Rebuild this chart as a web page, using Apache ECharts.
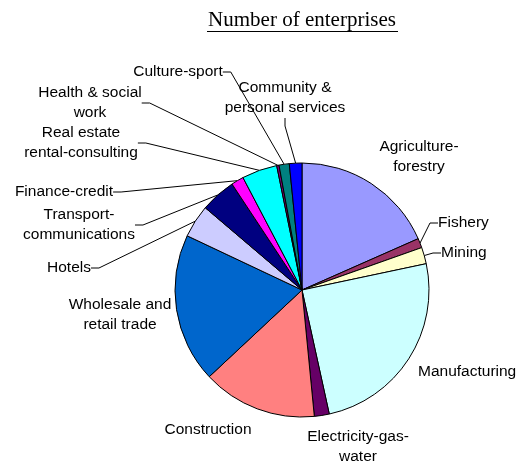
<!DOCTYPE html>
<html>
<head>
<meta charset="utf-8">
<script src="https://cdn.jsdelivr.net/npm/echarts@6/dist/echarts.min.js"></script>
<style>
  html, body { margin: 0; padding: 0; background: #fff; }
  #chart { width: 520px; height: 463px; }
</style>
</head>
<body>
<div id="chart"></div>
<script>
// data (share of enterprises, %)
const sectors = [
    'Agriculture-forestry', 'Fishery', 'Mining', 'Manufacturing', 'Electricity-gas-water',
    'Construction', 'Wholesale and retail trade', 'Hotels', 'Transport-communications',
    'Finance-credit', 'Real estate rental-consulting', 'Health & social work',
    'Culture-sport', 'Community & personal services'
]
const shares = [18.4, 1.2, 2.1, 24.9, 1.9, 14.6, 19.0, 4.2, 4.5, 1.6, 4.5, 0.3, 1.3, 1.6]
const labelTexts = [
    'Agriculture-\nforestry', 'Fishery', 'Mining', 'Manufacturing', 'Electricity-gas-\nwater',
    'Construction', 'Wholesale and\nretail trade', 'Hotels', 'Transport-\ncommunications',
    'Finance-credit', 'Real estate\nrental-consulting', 'Health & social\nwork',
    'Culture-sport', 'Community &\npersonal services'
]

const colors = ['#9999FF', '#993366', '#FFFFCC', '#CCFFFF', '#660066', '#FF8080', '#0066CC',
    '#CCCCFF', '#000080', '#FF00FF', '#00FFFF', '#800080', '#008080', '#0000FF']

// where each label sits: [x, y, align]
const labelSpots = [
    [419, 157, 'center'], [438, 223, 'left'], [441, 253, 'left'], [418, 372, 'left'],
    [358, 447, 'center'], [208, 430, 'center'], [120, 315, 'center'], [69, 268, 'center'],
    [79, 225, 'center'], [64, 192, 'center'], [81, 143, 'center'], [90, 103, 'center'],
    [178, 72, 'center'], [285, 98, 'center']
]
const noLeader = [0, 3, 4, 5, 6]

const chart = echarts.init(document.getElementById('chart'))

const options = {
    animation: false,
    color: colors,
    graphic: [
        {
            type: 'text',
            x: 302,
            y: 20,
            style: {
                text: 'Number of enterprises',
                font: '21px "Liberation Serif", "Times New Roman", serif',
                fill: '#000',
                textAlign: 'center',
                textVerticalAlign: 'middle'
            }
        },
        {
            type: 'line',
            shape: { x1: 207, y1: 31.5, x2: 398, y2: 31.5 },
            style: { stroke: '#000', lineWidth: 1 }
        }
    ],
    series: [
        {
            type: 'pie',
            center: [302, 290],
            radius: 127,
            startAngle: 90,
            clockwise: true,
            avoidLabelOverlap: false,
            itemStyle: {
                borderColor: '#000',
                borderWidth: 1
            },
            label: {
                show: true,
                formatter: (p) => labelTexts[p.dataIndex],
                fontFamily: '"Liberation Sans", Arial, sans-serif',
                fontSize: 15.5,
                lineHeight: 20,
                color: '#000'
            },
            labelLine: {
                show: true,
                length: 10,
                length2: 8,
                lineStyle: { color: '#000', width: 1 }
            },
            labelLayout: (params) => {
                const s = labelSpots[params.dataIndex]
                return {
                    x: s[0],
                    y: s[1],
                    align: s[2],
                    verticalAlign: 'middle'
                }
            },
            emphasis: { disabled: true },
            data: sectors.map((name, i) => ({
                name: name,
                value: shares[i],
                labelLine: { show: noLeader.indexOf(i) < 0 }
            }))
        }
    ]
}

chart.setOption(options)
</script>
</body>
</html>
